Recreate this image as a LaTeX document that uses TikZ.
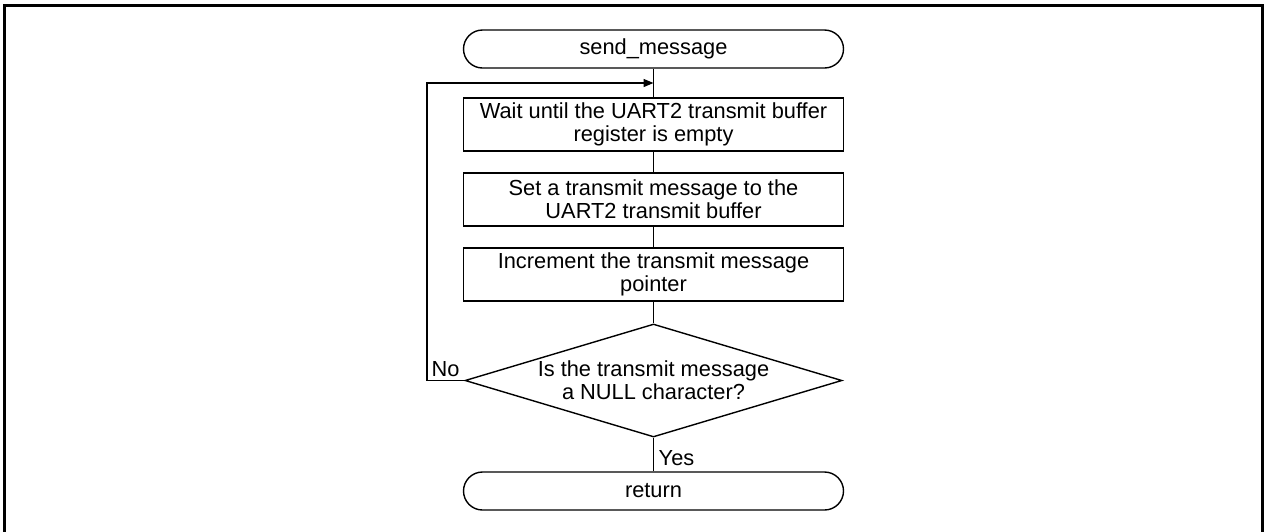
\documentclass[tikz,border=0pt]{standalone}
\usepackage{fontspec}
\setmainfont{Liberation Sans}
\usetikzlibrary{shapes.geometric,arrows.meta}
\begin{document}
\begin{tikzpicture}[x=1pt,y=-1pt,
  line width=1.4pt,
  every node/.style={font=\fontsize{21.8}{23}\selectfont, inner sep=0pt, align=center},
  terminal/.style={draw, rounded corners=19pt, minimum width=380pt, minimum height=38pt},
  process/.style={draw, minimum width=380pt, minimum height=53pt},
  decision/.style={draw, diamond, aspect=3.3, minimum width=377pt, minimum height=113pt, inner sep=0pt},
  flow/.style={line width=1.4pt},
  lbl/.style={font=\fontsize{21.8}{23}\selectfont}]
\useasboundingbox (0,0) rectangle (1264,531);
% outer frame (open at the bottom)
\draw[line width=3pt] (4.5,540) -- (4.5,5.5) -- (1262.5,5.5) -- (1262.5,540);

\node[terminal] (start) at (653.5,49) {send\_message};
\node[process] (wait) at (653.5,124.5) {Wait until the UART2 transmit buffer\\register is empty};
\node[process] (set) at (653.5,199.5) {Set a transmit message to the\\UART2 transmit buffer};
\node[process] (inc) at (653.5,274.5) {Increment the transmit message\\pointer};
\node[decision] (null) at (653.5,380.5) {};
\node at (653.5,380.5) {Is the transmit message\\a NULL character?};
\node[terminal] (ret) at (653.5,491) {return};

\coordinate (join) at (653.5,83);
\coordinate (loopL) at (427,380.5);
\coordinate (loopT) at (427,83);

\draw[flow] (start) -- (wait);
\draw[flow] (wait) -- (set);
\draw[flow] (set) -- (inc);
\draw[flow] (inc) -- (null);
\draw[flow] (null) -- (ret);
\draw[flow,-{Triangle[length=10pt,width=8pt]}] (null.west) -- (loopL) -- (loopT) -- (join);

\node[lbl, anchor=south west] at (431,377) {No};
\node[lbl, anchor=west] at (658,458) {Yes};
\end{tikzpicture}
\end{document}
